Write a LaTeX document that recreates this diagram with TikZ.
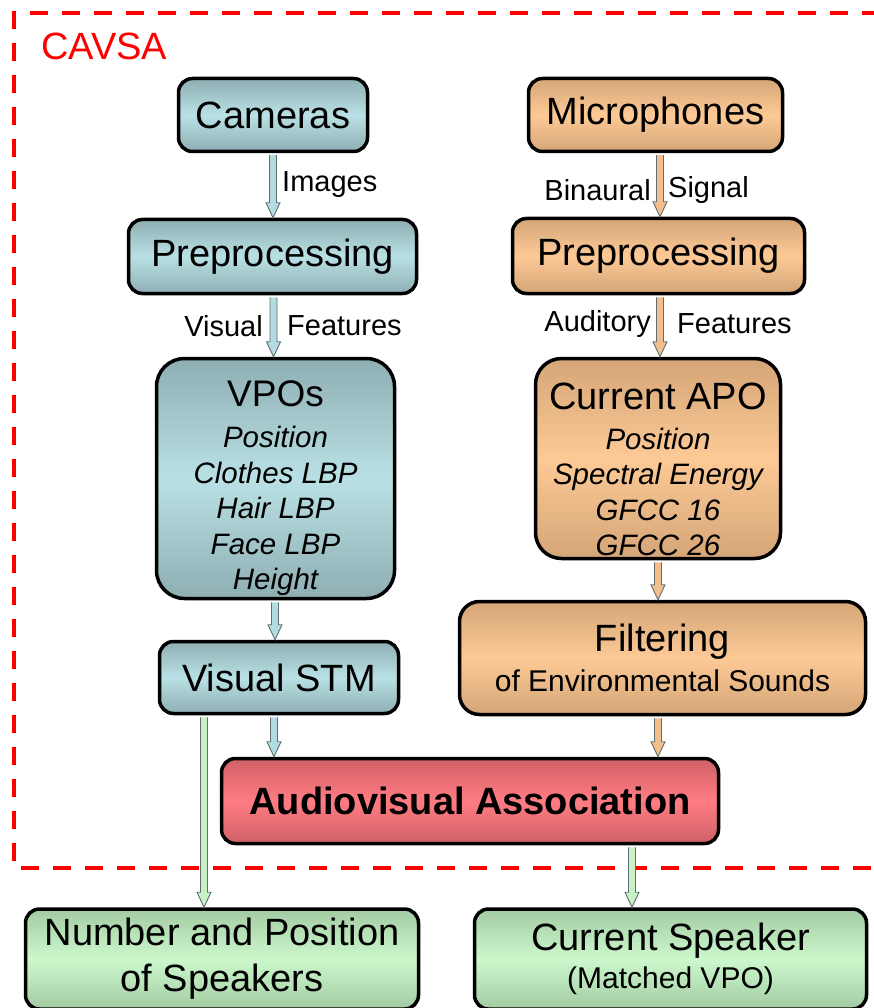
\documentclass[tikz,border=0pt]{standalone}
\usepackage{fontspec}
\setmainfont{Liberation Sans}
\usetikzlibrary{calc}

\definecolor{blueEdge}{HTML}{8EAEB2}
\definecolor{blueMid}{HTML}{B9E1E5}
\definecolor{orEdge}{HTML}{D4A577}
\definecolor{orMid}{HTML}{FDCA96}
\definecolor{redEdge}{HTML}{CF6168}
\definecolor{redMid}{HTML}{FF7C82}
\definecolor{grEdge}{HTML}{A3CBA3}
\definecolor{grMid}{HTML}{CCF8CC}
\definecolor{arrowLine}{HTML}{5F6E70}
\definecolor{blueArrow}{HTML}{B4DCE0}
\definecolor{orArrow}{HTML}{F2BE8C}
\definecolor{grArrow}{HTML}{C6F2C6}

\newcommand\fs[2]{\fontsize{#1}{#2}\selectfont}

% hollow block arrow going straight down from #2 to the level of #3
\newcommand\flowarrow[3][blueArrow]{%
  \path[draw=arrowLine, line width=0.9pt, line join=miter, fill=#1]
    let \p1=(#2), \p2=(#3) in
    ({\x1-3.5pt},{\y1-2pt}) -- ({\x1-3.5pt},{\y2+15pt}) -- ({\x1-7pt},{\y2+15pt})
    -- ({\x1},{\y2}) -- ({\x1+7pt},{\y2+15pt}) -- ({\x1+3.5pt},{\y2+15pt})
    -- ({\x1+3.5pt},{\y1-2pt});
}

\tikzset{
  box/.style={draw=black, line width=3.5pt, rounded corners=14pt, align=center,
    inner sep=0pt, font=\fs{38}{44}},
  bluebox/.style={box, top color=blueEdge, bottom color=blueEdge, middle color=blueMid},
  orbox/.style={box, top color=orEdge, bottom color=orEdge, middle color=orMid},
  redbox/.style={box, top color=redEdge, bottom color=redEdge, middle color=redMid},
  grbox/.style={box, top color=grEdge, bottom color=grEdge, middle color=grMid},
  flowlabel/.style={inner sep=0pt, font=\fs{29}{34}},
  attr/.style={align=center, inner sep=0pt, font=\fs{29.5}{35.5}\itshape},
}

\begin{document}
\begin{tikzpicture}[x=1pt, y=-1pt]
\useasboundingbox (0,0) rectangle (873,1008);

% CAVSA frame
\draw[red, line width=4pt, dash pattern=on 18pt off 14pt]
  (880,13) -- (14,13) -- (14,868) -- (880,868);
\node[anchor=west, inner sep=0pt, text=red, font=\fs{38}{44}] (cavsa) at (41,46) {CAVSA};

% visual branch
\node[bluebox, minimum width=189, minimum height=73] (cam) at (273,115) {Cameras};
\node[bluebox, minimum width=288, minimum height=74] (pre1) at (272.5,256.5) {Preprocessing};
\node[bluebox, rounded corners=28pt, minimum width=238, minimum height=240] (vpo) at (275.5,478.5) {};
\node[attr] (vpotxt) at (275.5,488) {{\fs{37}{42}\upshape VPOs}\\[6pt]Position\\Clothes LBP\\Hair LBP\\Face LBP\\Height};
\node[bluebox, minimum width=239, minimum height=72] (stm) at (279,677.5) {Visual STM};

% auditory branch
\node[orbox, minimum width=254, minimum height=73] (mic) at (655.5,115) {Microphones};
\node[orbox, minimum width=292, minimum height=75] (pre2) at (658.5,256) {Preprocessing};
\node[orbox, rounded corners=26pt, minimum width=245, minimum height=200] (apo) at (658,458.5) {};
\node[attr] (apotxt) at (658,469.5) {{\upshape\fs{38}{44}Current APO}\\[4pt]Position\\Spectral Energy\\GFCC 16\\GFCC 26};
\node[orbox, rounded corners=20pt, minimum width=406, minimum height=113] (filt) at (662.5,658)
  {Filtering\\[-4pt]{\fs{30}{34}of Environmental Sounds}};

% fusion and outputs
\node[redbox, minimum width=497, minimum height=85, font=\fs{38}{44}\bfseries] (av) at (470,801) {Audiovisual Association};
\node[grbox, minimum width=393, minimum height=100] (nps) at (222,959) {Number and Position\\[2pt]of Speakers};
\node[grbox, minimum width=392, minimum height=100] (cs) at (670.5,959) {Current Speaker\\[-6pt]{\fs{30}{34}(Matched VPO)}};

% connectors
\flowarrow{cam.south}{pre1.north}
\flowarrow{[xshift=1pt]pre1.south}{vpo.north}
\flowarrow{[xshift=-0.5pt]vpo.south}{stm.north}
\flowarrow{[xshift=-5pt]stm.south}{av.north}
\flowarrow[grArrow]{[xshift=-75pt]stm.south}{nps.north}
\flowarrow[orArrow]{[xshift=4.5pt]mic.south}{pre2.north}
\flowarrow[orArrow]{[xshift=1.5pt]pre2.south}{apo.north}
\flowarrow[orArrow]{apo.south}{filt.north}
\flowarrow[orArrow]{[xshift=-4.5pt]filt.south}{av.north}
\flowarrow[grArrow]{[xshift=162pt]av.south}{cs.north}

% connector labels
\node[flowlabel, anchor=west] (lbimg) at (282,185) {Images};
\node[flowlabel, anchor=east] (lbvis) at (263,326) {Visual};
\node[flowlabel, anchor=west] (lbvf) at (287,326) {Features};
\node[flowlabel, anchor=east] (lbbin) at (651,190) {Binaural};
\node[flowlabel, anchor=west] (lbsig) at (668,190) {Signal};
\node[flowlabel, anchor=east] (lbaud) at (651,324) {Auditory};
\node[flowlabel, anchor=west] (lbaf) at (677,324) {Features};
\end{tikzpicture}
\end{document}
